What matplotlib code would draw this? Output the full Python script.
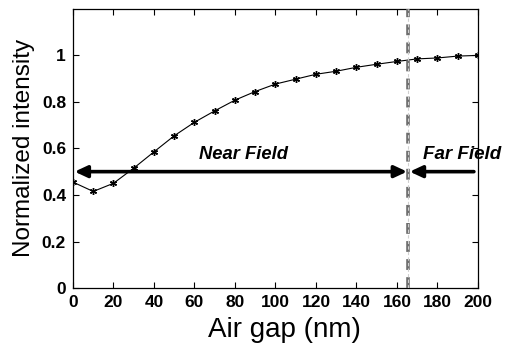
import matplotlib
matplotlib.use("Agg")
import matplotlib.pyplot as plt

plt.rcParams['font.family'] = ['Liberation Sans', 'DejaVu Sans']

air_gap = [0, 10, 20, 30, 40, 50, 60, 70, 80, 90, 100, 110, 120, 130, 140,
           150, 160, 170, 180, 190, 200]
intensity = [0.455, 0.415, 0.45, 0.515, 0.585, 0.654, 0.712, 0.761, 0.807, 0.844,
             0.876, 0.897, 0.918, 0.931, 0.948, 0.961, 0.973, 0.984, 0.988, 0.996, 0.999]
x_ticks = [0, 20, 40, 60, 80, 100, 120, 140, 160, 180, 200]
y_ticks = [0, 0.2, 0.4, 0.6, 0.8, 1.0]
y_tick_labels = ['0', '0.2', '0.4', '0.6', '0.8', '1']
boundary = 165.5
arrow_y = 0.5
near_label = 'Near Field'
far_label = 'Far Field'

fig = plt.figure(figsize=(5.09, 3.43), dpi=100)
ax = fig.add_axes([0.1434, 0.160, 0.7956, 0.815])

ax.plot(air_gap, intensity, color='black', lw=0.8, marker=(6, 2, 0), ms=5, mew=1.0)

ax.axvline(boundary, color='#6e6e6e', lw=2.6, dashes=(3.0, 2.0), zorder=3)
ax.axvline(boundary, color='#d0d0d0', lw=0.8, dashes=(3.0, 2.0), zorder=4)

astyle = '-|>,head_length=0.75,head_width=0.35'
ax.annotate('', xy=(0.8, arrow_y), xytext=(boundary - 0.5, arrow_y),
            arrowprops=dict(arrowstyle='<|-|>,head_length=0.75,head_width=0.35',
                            color='black', lw=2.6, shrinkA=0, shrinkB=0), zorder=5)
ax.annotate('', xy=(boundary + 0.8, arrow_y), xytext=(198, arrow_y),
            arrowprops=dict(arrowstyle=astyle,
                            color='black', lw=2.6, shrinkA=0, shrinkB=0), zorder=5)

ax.text(84, 0.572, near_label, fontsize=13.2, fontweight='bold', fontstyle='italic',
        ha='center', va='center')
ax.text(173, 0.572, far_label, fontsize=13.5, fontweight='bold', fontstyle='italic',
        ha='left', va='center', clip_on=False)

ax.set_xlim(0, 200)
ax.set_ylim(0, 1.2)
ax.set_xticks(x_ticks)
ax.set_yticks(y_ticks)
ax.set_yticklabels(y_tick_labels)
ax.tick_params(direction='in', top=True, right=True, length=4, width=0.8,
               labelsize=12.5, pad=5)
for lab in ax.get_xticklabels() + ax.get_yticklabels():
    lab.set_fontweight('bold')
for s in ax.spines.values():
    s.set_linewidth(0.9)

ax.set_xlabel('Air gap (nm)', fontsize=20)
ax.xaxis.set_label_coords(0.523, -0.105)
ax.set_ylabel('Normalized intensity', fontsize=17.5, labelpad=5)

fig.savefig('out.png', dpi=100)
